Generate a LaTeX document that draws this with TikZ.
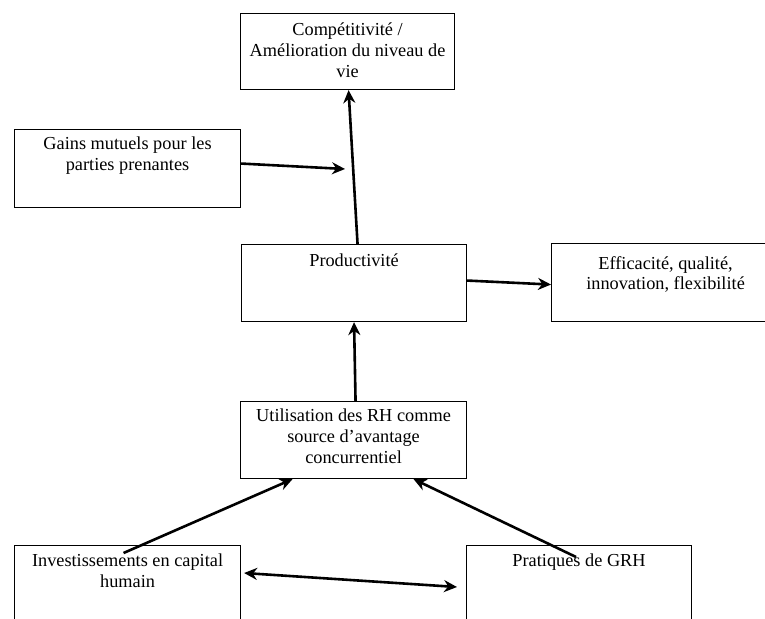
\documentclass[tikz,border=0pt]{standalone}
\usepackage{fontspec}
\setmainfont{Liberation Serif}
\usepackage{tikz}
\usetikzlibrary{arrows.meta, positioning, calc}
\tikzstyle{box} = [draw=black, line width=1.1pt, anchor=north west, inner sep=0pt]
\tikzstyle{txt} = [anchor=north, inner sep=0pt, align=center, font=\fontsize{18.3}{20.7}\selectfont]
\tikzstyle{arrow} = [line width=2.6pt, -{Stealth[length=13pt, width=12pt]}]
\tikzstyle{dblarrow} = [line width=2.6pt, {Stealth[length=13pt, width=12pt]}-{Stealth[length=13pt, width=12pt]}]

\begin{document}
\begin{tikzpicture}[x=1pt, y=-1pt]
        \useasboundingbox (0,0) rectangle (765,618);
        \clip (0,0) rectangle (765,618);
        \node[box, minimum width=214pt, minimum height=76pt] (comp) at (240,13) {};
        \node[box, minimum width=226pt, minimum height=78pt] (gains) at (14,129) {};
        \node[box, minimum width=225pt, minimum height=77pt] (prod) at (241,244) {};
        \node[box, minimum width=228pt, minimum height=78pt] (eff) at (551,243) {};
        \node[box, minimum width=226pt, minimum height=77pt] (util) at (240,401) {};
        \node[box, minimum width=226pt, minimum height=100pt] (invest) at (14,545) {};
        \node[box, minimum width=225pt, minimum height=100pt] (prat) at (466,545) {};

        \node[txt] (comp-t) at ([yshift=-10pt]comp.north) {Compétitivité /\\Amélioration du niveau de\\vie};
        \node[txt] (gains-t) at ([yshift=-8pt]gains.north) {Gains mutuels pour les\\parties prenantes};
        \node[txt] (prod-t) at ([yshift=-10pt]prod.north) {Productivité};
        \node[txt] (eff-t) at ([yshift=-13pt]eff.north) {Efficacité, qualité,\\innovation, flexibilité};
        \node[txt] (util-t) at ([yshift=-8pt]util.north) {Utilisation des RH comme\\source d’avantage\\concurrentiel};
        \node[txt] (invest-t) at ([yshift=-9pt]invest.north) {Investissements en capital\\humain};
        \node[txt] (prat-t) at ([yshift=-9pt]prat.north) {Pratiques de GRH};

        \coordinate (gtip) at (345,169);
        \draw[arrow] ([xshift=3.5pt]prod.north) -- ([xshift=1pt]comp.south);
        \draw[arrow] ([yshift=5pt]gains.east) -- (gtip);
        \draw[arrow] ([yshift=2.5pt]prod.east) -- ([yshift=-2pt]eff.west);
        \draw[arrow] ([xshift=2pt]util.north) -- (prod.south);
        \draw[arrow] ($(invest.north)+(-4,8)$) -- ([xshift=-61pt]util.south);
        \draw[arrow] ($(prat.north)+(-3,12)$) -- ([xshift=60pt]util.south);
        \draw[dblarrow] ($(invest.north east)+(3,28)$) -- ($(prat.north west)+(-9,42)$);
\end{tikzpicture}
\end{document}
